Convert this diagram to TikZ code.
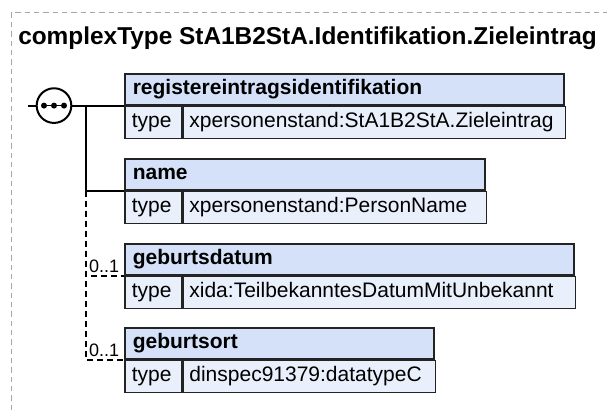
\documentclass[tikz,border=0pt]{standalone}
\usepackage{fontspec}
\setmainfont{Liberation Sans}
\usetikzlibrary{positioning}
\definecolor{headblue}{RGB}{213,225,248}
\definecolor{rowblue}{RGB}{233,240,252}
\definecolor{boxline}{RGB}{35,35,35}
\begin{document}
\begin{tikzpicture}[x=0.75pt, y=-0.75pt,
		font=\fontsize{15.75}{18}\selectfont,
		head/.style={draw=boxline, line width=1.2pt, fill=headblue, anchor=north west, align=left, inner xsep=6pt, inner ysep=0pt, minimum height=23.25pt, text height=11.3pt, text depth=3.3pt, font=\fontsize{15.75}{18}\selectfont\bfseries},
		typecell/.style={draw=boxline, line width=1.2pt, fill=rowblue, anchor=north west, align=left, inner xsep=5.25pt, inner ysep=0pt, text width=32.25pt, minimum height=24pt, text height=11.3pt, text depth=3.3pt},
		valcell/.style={typecell, anchor=west, inner xsep=4.5pt},
		seqsym/.style={circle, draw=black, line width=1.5pt, fill=white, minimum size=26pt, inner sep=0pt},
		conn/.style={line width=1.5pt, black},
		opt/.style={dash pattern=on 4.5pt off 3pt},
		mult/.style={font=\fontsize{13.5}{16}\selectfont, inner sep=0pt},
		frame/.style={gray!70, line width=0.75pt, dash pattern=on 4pt off 3pt}]
		\useasboundingbox (0,0) rectangle (607,410);
		\draw[frame] (11,410) -- (11,13) -- (607,13);
		\node[anchor=base west, inner sep=0pt, font=\fontsize{18.3}{22}\selectfont\bfseries] (title) at (18,45) {complexType StA1B2StA.Identifikation.Zieleintrag};
		
		% elements
		\node[head, text width=317.25pt] (regH) at (124,73) {registereintragsidentifikation};
		\node[typecell] (regT) at (regH.south west) {type};
		\node[valcell, text width=277.5pt] (regV) at (regT.east) {xpersonenstand:StA1B2StA.Zieleintrag};
		
		\node[head, text width=258pt] (nameH) at (124,158) {name};
		\node[typecell] (nameT) at (nameH.south west) {type};
		\node[valcell, text width=218.25pt] (nameV) at (nameT.east) {xpersonenstand:PersonName};
		
		\node[head, text width=324.75pt] (gdatH) at (124,243) {geburtsdatum};
		\node[typecell] (gdatT) at (gdatH.south west) {type};
		\node[valcell, text width=285pt] (gdatV) at (gdatT.east) {xida:TeilbekanntesDatumMitUnbekannt};
		
		\node[head, text width=219.75pt] (gortH) at (124,327) {geburtsort};
		\node[typecell] (gortT) at (gortH.south west) {type};
		\node[valcell, text width=180pt] (gortV) at (gortT.east) {dinspec91379:datatypeC};
		
		% sequence
		\path (regH.south west) ++(-70,0) node[seqsym] (seq) {};
		\draw[line width=1pt] ([xshift=-7.5pt]seq.center) -- ([xshift=7.5pt]seq.center);
		\foreach \dx in {-7.5,0,7.5}
			\fill ([xshift=\dx pt]seq.center) circle (2.25pt);
		
		% connectors
		\coordinate (start) at ([xshift=-19.5pt]seq.center);
		\coordinate (fork) at ([xshift=24pt]seq.center);
		\coordinate (fork2) at (fork |- nameH.south west);
		\draw[conn] (start) -- (seq.west);
		\draw[conn] (seq.east) -- (regH.south west);
		\draw[conn] (fork) -- (fork2) -- (nameH.south west);
		\draw[conn, opt] (fork2) |- (gdatH.south west);
		\draw[conn, opt] (fork2) |- (gortH.south west);
		
		\node[mult, anchor=base east] (gdatM) at ([xshift=-3.5pt, yshift=2.5pt]gdatH.south west) {0..1};
		\node[mult, anchor=base east] (gortM) at ([xshift=-3.5pt, yshift=2.5pt]gortH.south west) {0..1};
	\end{tikzpicture}
\end{document}
